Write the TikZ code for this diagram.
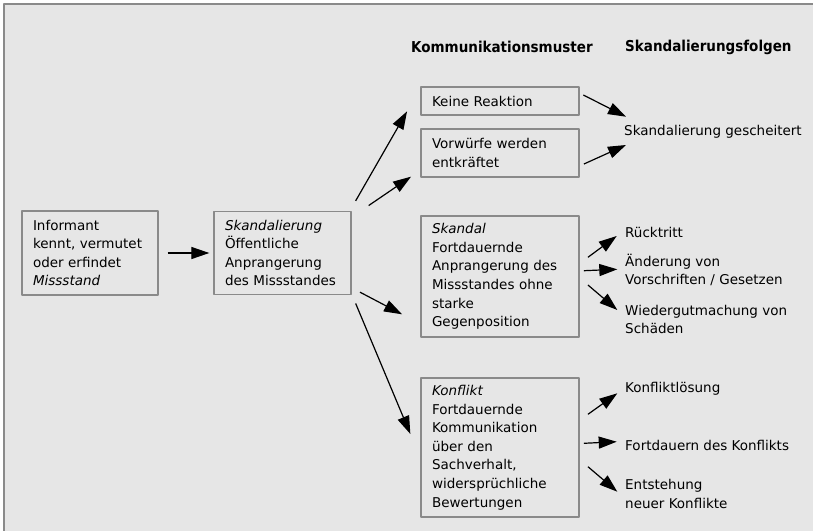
\documentclass[tikz,border=0pt]{standalone}
\usepackage{fontspec}
\setmainfont{DejaVu Sans}
\newfontfamily\headfont{DejaVu Sans Condensed Bold}
\usetikzlibrary{arrows.meta}
\definecolor{hgrau}{HTML}{E6E6E6}
\definecolor{rahmen}{HTML}{8A8A8A}
\tikzset{
	kasten/.style={draw=rahmen, line width=1.3pt, align=left, inner xsep=11pt, inner ysep=0pt},
	folge/.style={align=left, anchor=west, inner sep=0pt},
	titel/.style={anchor=west, inner sep=0pt, font=\headfont\fontsize{15}{18}\selectfont},
	pfeil/.style={->, line width=1.2pt}
}
\begin{document}
\begin{tikzpicture}[x=1pt, y=-1pt, >={Triangle[length=18pt,width=12pt]}, font=\fontsize{13.5}{18.6}\selectfont, line join=round]
	\useasboundingbox (0,0) rectangle (813,530);
	\draw[draw=rahmen, fill=hgrau, line width=2pt] (4,4) rectangle (840,560);
	\node (muster) at (411,47) [titel]{Kommunikationsmuster};
	\node (folgen) at (625,47) [titel]{Skandalierungsfolgen};
	\node (inf) at (90,253) [kasten, text width=114pt, minimum height=84pt]{Informant\\kennt, vermutet\\oder erfindet\\\textit{Missstand}};
	\node (skal) at (282.5,253) [kasten, text width=115pt, minimum height=83pt]{\textit{Skandalierung}\\Öffentliche\\Anprangerung\\des Missstandes};
	\node (keine) at (500,101) [kasten, text width=136pt, minimum height=28pt]{Keine Reaktion};
	\node (vorw) at (500,153) [kasten, text width=136pt, minimum height=48pt]{Vorwürfe werden\\entkräftet};
	\node (skandal) at (500,276.5) [kasten, text width=136pt, minimum height=121pt]{\textit{Skandal}\\Fortdauernde\\Anprangerung des\\Missstandes ohne\\starke\\Gegenposition};
	\node (konflikt) at (500,447.5) [kasten, text width=136pt, minimum height=139pt]{\textit{Konflikt}\\Fortdauernde\\Kommunikation\\über den\\Sachverhalt,\\widersprüchliche\\Bewertungen};
	\node (gesch) at (624,131.7) [folge]{Skandalierung gescheitert};
	\node (rueck) at (625,232) [folge]{Rücktritt};
	\node (aend) at (625,270) [folge]{Änderung von\\Vorschriften / Gesetzen};
	\node (wieder) at (625,319.5) [folge]{Wiedergutmachung von\\Schäden};
	\node (loesung) at (625,389) [folge]{Konfliktlösung};
	\node (fortd) at (625,445) [folge]{Fortdauern des Konflikts};
	\node (entst) at (625,494) [folge]{Entstehung\\neuer Konflikte};
	\draw[pfeil] ([xshift=9pt]inf.east) -- ([xshift=-4pt]skal.west);
	\draw[pfeil] ([shift={(4,-10)}]skal.north east) -- ([shift={(-13.3,-4.3)}]keine.south west);
	\draw[pfeil] ([shift={(17,-5.3)}]skal.north east) -- ([shift={(-9.3,-1)}]vorw.south west);
	\draw[pfeil] ([shift={(8.3,-3)}]skal.south east) -- ([shift={(-18.3,37.8)}]skandal.west);
	\draw[pfeil] ([shift={(4,8.3)}]skal.south east) -- ([shift={(-10,-13.5)}]konflikt.west);
	\draw[pfeil] ([shift={(3.7,-6)}]keine.east) -- ([shift={(2,-15)}]gesch.west);
	\draw[pfeil] ([shift={(4.3,11)}]vorw.east) -- ([shift={(2,13.3)}]gesch.west);
	\draw[pfeil] ([shift={(8.3,-19.2)}]skandal.east) -- ([shift={(-8.3,4)}]rueck.west);
	\draw[pfeil] ([shift={(4.3,-5.8)}]skandal.east) -- ([shift={(-7.7,-0.7)}]aend.west);
	\draw[pfeil] ([shift={(8.3,8.5)}]skandal.east) -- ([shift={(-7.7,-9.5)}]wieder.west);
	\draw[pfeil] ([shift={(8.3,-33.2)}]konflikt.east) -- ([shift={(-7.7,4.3)}]loesung.west);
	\draw[pfeil] ([shift={(4.3,-4.2)}]konflikt.east) -- ([shift={(-8.3,-3.3)}]fortd.west);
	\draw[pfeil] ([shift={(8.3,19.2)}]konflikt.east) -- ([shift={(-7.7,-2.3)}]entst.west);
\end{tikzpicture}
\end{document}
